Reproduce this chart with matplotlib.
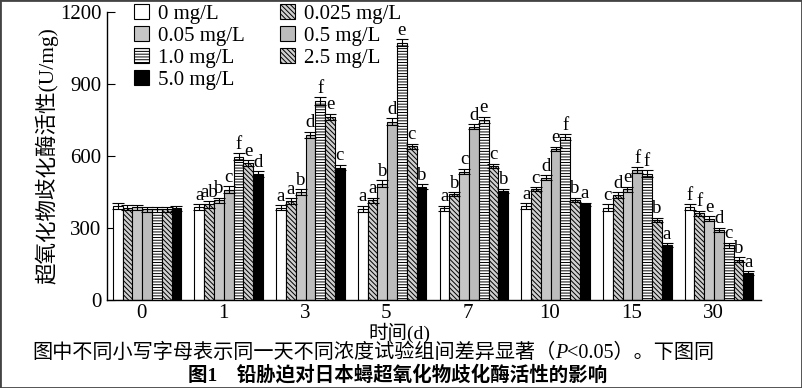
import matplotlib
matplotlib.use("Agg")
import matplotlib.pyplot as plt
from matplotlib.patches import Rectangle
import numpy as np

plt.rcParams['font.family'] = ['Liberation Serif', 'Noto Sans CJK SC']
plt.rcParams['hatch.linewidth'] = 0.7

# data
days = ['0', '1', '3', '5', '7', '10', '15', '30']
conc_labels = ['0 mg/L', '0.025 mg/L', '0.05 mg/L', '0.5 mg/L', '1.0 mg/L', '2.5 mg/L', '5.0 mg/L']

sod_0 = [393, 388, 385, 380, 382, 392, 385, 387]
sod_0025 = [385, 398, 412, 415, 440, 462, 437, 361]
sod_005 = [387, 415, 450, 485, 535, 510, 462, 338]
sod_05 = [378, 460, 687, 743, 722, 630, 542, 292]
sod_10 = [378, 597, 829, 1072, 750, 678, 527, 228]
sod_25 = [378, 570, 764, 640, 558, 417, 333, 168]
sod_50 = [382, 525, 552, 472, 455, 398, 228, 112]

err_0 = [12, 12, 10, 12, 10, 12, 14, 12]
err_0025 = [10, 14, 12, 12, 8, 8, 12, 10]
err_005 = [10, 12, 12, 14, 12, 10, 10, 10]
err_05 = [10, 14, 14, 14, 10, 8, 12, 10]
err_10 = [10, 14, 16, 14, 14, 12, 14, 10]
err_25 = [10, 12, 12, 12, 10, 10, 10, 10]
err_50 = [10, 12, 12, 10, 8, 8, 8, 8]

letters_0 = ['', 'a', 'a', 'a', 'a', 'a', 'c', 'f']
letters_0025 = ['', 'ab', 'a', 'a', 'b', 'c', 'd', 'f']
letters_005 = ['', 'b', 'b', 'b', 'c', 'd', 'e', 'e']
letters_05 = ['', 'c', 'd', 'd', 'd', 'e', 'f', 'd']
letters_10 = ['', 'f', 'f', 'e', 'e', 'f', 'f', 'c']
letters_25 = ['', 'e', 'e', 'c', 'c', 'b', 'b', 'b']
letters_50 = ['', 'd', 'c', 'b', 'b', 'a', 'a', 'a']

series = [sod_0, sod_0025, sod_005, sod_05, sod_10, sod_25, sod_50]
errors = [err_0, err_0025, err_005, err_05, err_10, err_25, err_50]
letters = [letters_0, letters_0025, letters_005, letters_05, letters_10, letters_25, letters_50]

faces = ['white', '#d0d0d0', '#c6c6c6', '#bcbcbc', 'white', '#d0d0d0', 'black']
hatches = [None, '\\\\\\\\\\\\\\', None, None, '------', '\\\\\\\\\\\\\\', None]

fig = plt.figure(figsize=(8.02, 3.88), dpi=100)
ax = fig.add_axes([107 / 802, 88 / 388, 654 / 802, 288 / 388])

x = np.arange(len(days))
w = 0.12
handles = []
for i, vals in enumerate(series):
    pos = x + (i - 3) * w
    b = ax.bar(pos, vals, w, color=faces[i], edgecolor='black', linewidth=0.8,
               hatch=hatches[i], label=conc_labels[i], zorder=2)
    handles.append(b)
    ax.errorbar(pos, vals, yerr=errors[i], fmt='none', ecolor='black',
                elinewidth=0.8, capsize=4, capthick=0.8, zorder=3)
    for j in range(len(days)):
        if letters[i][j]:
            ax.text(pos[j], vals[j] + errors[i][j] + 2, letters[i][j],
                    ha='center', va='bottom', fontsize=13.5, zorder=4)

ax.set_xlim(-0.49, 7.515)
ax.set_ylim(0, 1200)
ax.set_yticks([0, 300, 600, 900, 1200])
ax.set_xticks(x - 0.07)
ax.set_xticklabels(days)
ax.tick_params(axis='y', direction='in', length=6, labelsize=15, pad=4)
ax.tick_params(axis='x', length=0, labelsize=15, pad=3)
ax.spines['top'].set_visible(False)
ax.spines['right'].set_visible(False)
ax.spines['left'].set_linewidth(1.0)
ax.spines['bottom'].set_linewidth(1.0)

ax.set_ylabel('超氧化物歧化酶活性(U/mg)', fontsize=15.5, labelpad=1)
ax.set_xlabel('时间(d)', fontsize=14)
ax.xaxis.set_label_coords((399 - 107) / 654, -0.08)

order = [0, 2, 4, 6, 1, 3, 5]
fig.legend([handles[k] for k in order], [conc_labels[k] for k in order],
           ncol=2, loc='upper left', bbox_to_anchor=(134 / 802, 1 - 4 / 388),
           frameon=False, fontsize=15, handlelength=0.7, handleheight=0.7,
           handletextpad=0.45, labelspacing=0.12, columnspacing=1.7,
           borderaxespad=0, borderpad=0)

# caption in pieces so that P can be italic
cap_y = 1 - 353 / 388
cap1 = fig.text(32 / 802, cap_y, '图中不同小写字母表示同一天不同浓度试验组间差异显著（',
                ha='left', va='center', fontsize=14.5)
cap2 = fig.text(0, cap_y, 'P', fontsize=14.5, style='italic', ha='left', va='center')
cap3 = fig.text(0, cap_y, '<0.05）。下图同', fontsize=14.5, ha='left', va='center')
fig.canvas.draw()
r = fig.canvas.get_renderer()
bb1 = cap1.get_window_extent(r).transformed(fig.transFigure.inverted())
cap2.set_position((bb1.x1, cap_y))
bb2 = cap2.get_window_extent(r).transformed(fig.transFigure.inverted())
cap3.set_position((bb2.x1, cap_y))

fig.text(398 / 802, 1 - 375 / 388, '图1　铅胁迫对日本蟳超氧化物歧化酶活性的影响',
         ha='center', va='center', fontsize=14, fontweight='bold')

fig.patches.append(Rectangle((0, 0), 1, 1, transform=fig.transFigure,
                             fill=False, edgecolor='#444444', linewidth=2))

plt.savefig('out.png', dpi=100)
